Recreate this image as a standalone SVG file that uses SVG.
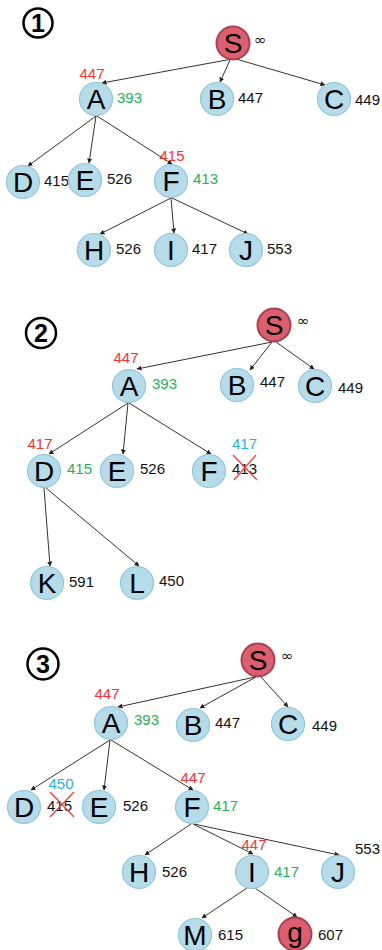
<svg xmlns="http://www.w3.org/2000/svg" width="382" height="950" viewBox="0 0 382 950">
<style>
.n{fill:#b6dcea;stroke:#8fc6da;stroke-width:1.2}
.s{fill:#dc5f70;stroke:#a8404f;stroke-width:2}
.L{font-family:"Liberation Sans",Arial,sans-serif;font-size:28px;fill:#000;text-anchor:middle}
.v{font-family:"Liberation Sans",Arial,sans-serif;font-size:15px;fill:#111}
.r{fill:#ff3030}
.g{fill:#22b35a}
.b{fill:#2aaee6}
.m{text-anchor:middle}
.e{stroke:#333;stroke-width:1;fill:none;marker-end:url(#ah)}
.x{stroke:#f04040;stroke-width:1.3}
.num{fill:#fff;stroke:#000;stroke-width:2.5}
.nt{font-family:"Liberation Sans",Arial,sans-serif;font-size:25px;font-weight:bold;text-anchor:middle}
.inf{font-family:"DejaVu Sans",sans-serif;font-size:15px;fill:#222}
</style>
<defs>
<marker id="ah" viewBox="0 0 10 10" refX="9" refY="5" markerWidth="5" markerHeight="5" orient="auto" markerUnits="userSpaceOnUse">
<path d="M0,0 L10,5 L0,10 z" fill="#222"/>
</marker>
</defs>
<rect width="382" height="950" fill="#fff"/>

<!-- Panel numbers -->
<g id="p1"><circle class="num" cx="38" cy="23" r="14.5"/><text class="nt" x="38" y="32">1</text></g>
<g id="p2"><circle class="num" cx="41" cy="333" r="15"/><text class="nt" x="41" y="342">2</text></g>
<g id="p3"><circle class="num" cx="43" cy="664" r="15.5"/><text class="nt" x="43" y="673">3</text></g>

<g id="connectors">
<!-- panel 1 -->
<line class="e" x1="232" y1="59" x2="102" y2="83"/>
<line class="e" x1="230" y1="60" x2="220" y2="82"/>
<line class="e" x1="236" y1="59" x2="325" y2="85"/>
<line class="e" x1="96" y1="116" x2="28" y2="166"/>
<line class="e" x1="96" y1="116" x2="89" y2="163"/>
<line class="e" x1="97" y1="116" x2="172" y2="164"/>
<line class="e" x1="171" y1="198" x2="100" y2="234"/>
<line class="e" x1="171" y1="198" x2="174" y2="233"/>
<line class="e" x1="172" y1="198" x2="248" y2="234"/>
<!-- panel 2 -->
<line class="e" x1="272" y1="342" x2="137" y2="369"/>
<line class="e" x1="272" y1="342" x2="250" y2="370"/>
<line class="e" x1="276" y1="342" x2="314" y2="369"/>
<line class="e" x1="128" y1="403" x2="49" y2="454"/>
<line class="e" x1="128" y1="403" x2="123" y2="454"/>
<line class="e" x1="129" y1="403" x2="211" y2="454"/>
<line class="e" x1="44" y1="488" x2="50" y2="566"/>
<line class="e" x1="46" y1="488" x2="139" y2="566"/>
<!-- panel 3 -->
<line class="e" x1="255" y1="677" x2="118" y2="707"/>
<line class="e" x1="256" y1="677" x2="200" y2="708"/>
<line class="e" x1="261" y1="677" x2="288" y2="707"/>
<line class="e" x1="110" y1="740" x2="31" y2="790"/>
<line class="e" x1="110" y1="740" x2="104" y2="790"/>
<line class="e" x1="111" y1="740" x2="193" y2="790"/>
<line class="e" x1="191" y1="824" x2="145" y2="855"/>
<line class="e" x1="193" y1="824" x2="253" y2="854"/>
<line class="e" x1="194" y1="824" x2="339" y2="855"/>
<line class="e" x1="247" y1="888" x2="202" y2="918"/>
<line class="e" x1="255" y1="888" x2="297" y2="917"/>
</g>

<!-- Panel 1 nodes -->
<g id="S1"><circle class="s" cx="233" cy="43" r="16.5"/><text class="L" x="233" y="53">S</text><text class="inf" x="254" y="45">∞</text></g>
<g id="A1"><circle class="n" cx="96" cy="99" r="16.5"/><text class="L" x="96" y="109">A</text><text class="v r m" x="92" y="79">447</text><text class="v g" x="117" y="103">393</text></g>
<g id="B1"><circle class="n" cx="217" cy="99" r="16.5"/><text class="L" x="217" y="109">B</text><text class="v" x="238" y="103">447</text></g>
<g id="C1"><circle class="n" cx="334" cy="99" r="16.5"/><text class="L" x="334" y="109">C</text><text class="v" x="355" y="105">449</text></g>
<g id="D1"><circle class="n" cx="23" cy="182" r="16.5"/><text class="L" x="23" y="192">D</text><text class="v" x="44" y="186">415</text></g>
<g id="E1"><circle class="n" cx="85" cy="180" r="16.5"/><text class="L" x="85" y="190">E</text><text class="v" x="107" y="184">526</text></g>
<g id="F1"><circle class="n" cx="171" cy="181" r="16.5"/><text class="L" x="171" y="191">F</text><text class="v r m" x="172" y="161">415</text><text class="v g" x="193" y="184">413</text></g>
<g id="H1"><circle class="n" cx="94" cy="250" r="16.5"/><text class="L" x="94" y="260">H</text><text class="v" x="116" y="254">526</text></g>
<g id="I1"><circle class="n" cx="171" cy="250" r="16.5"/><text class="L" x="171" y="260">I</text><text class="v" x="192" y="254">417</text></g>
<g id="J1"><circle class="n" cx="246" cy="250" r="16.5"/><text class="L" x="246" y="260">J</text><text class="v" x="267" y="254">553</text></g>

<!-- Panel 2 nodes -->
<g id="S2"><circle class="s" cx="274" cy="325" r="16.5"/><text class="L" x="274" y="335">S</text><text class="inf" x="297" y="326">∞</text></g>
<g id="A2"><circle class="n" cx="129" cy="386" r="16.5"/><text class="L" x="129" y="396">A</text><text class="v r m" x="126" y="363">447</text><text class="v g" x="152" y="389">393</text></g>
<g id="B2"><circle class="n" cx="237" cy="385" r="16.5"/><text class="L" x="237" y="395">B</text><text class="v" x="260" y="387">447</text></g>
<g id="C2"><circle class="n" cx="315" cy="386" r="16.5"/><text class="L" x="315" y="396">C</text><text class="v" x="338" y="393">449</text></g>
<g id="D2"><circle class="n" cx="44" cy="471" r="16.5"/><text class="L" x="44" y="481">D</text><text class="v r m" x="40" y="449">417</text><text class="v g" x="67" y="474">415</text></g>
<g id="E2"><circle class="n" cx="117" cy="471" r="16.5"/><text class="L" x="117" y="481">E</text><text class="v" x="140" y="474">526</text></g>
<g id="F2"><circle class="n" cx="209" cy="471" r="16.5"/><text class="L" x="209" y="481">F</text><text class="v b" x="232" y="449">417</text><text class="v" x="232" y="474">413</text><line class="x" x1="233" y1="455" x2="257" y2="480"/><line class="x" x1="256" y1="455" x2="234" y2="480"/></g>
<g id="K2"><circle class="n" cx="47" cy="583" r="16.5"/><text class="L" x="47" y="593">K</text><text class="v" x="69" y="587">591</text></g>
<g id="L2"><circle class="n" cx="137" cy="583" r="16.5"/><text class="L" x="137" y="593">L</text><text class="v" x="159" y="586">450</text></g>

<!-- Panel 3 nodes -->
<g id="S3"><circle class="s" cx="258" cy="660" r="16.5"/><text class="L" x="258" y="670">S</text><text class="inf" x="281" y="661">∞</text></g>
<g id="A3"><circle class="n" cx="111" cy="723" r="16.5"/><text class="L" x="111" y="733">A</text><text class="v r m" x="107" y="699">447</text><text class="v g" x="134" y="725">393</text></g>
<g id="B3"><circle class="n" cx="193" cy="725" r="16.5"/><text class="L" x="193" y="735">B</text><text class="v" x="215" y="728">447</text></g>
<g id="C3"><circle class="n" cx="288" cy="724" r="16.5"/><text class="L" x="288" y="734">C</text><text class="v" x="312" y="731">449</text></g>
<g id="D3"><circle class="n" cx="24" cy="807" r="16.5"/><text class="L" x="24" y="817">D</text><text class="v b m" x="61" y="789">450</text><text class="v" x="47" y="811">415</text><line class="x" x1="50" y1="792" x2="74" y2="817"/><line class="x" x1="74" y1="792" x2="50" y2="817"/></g>
<g id="E3"><circle class="n" cx="99" cy="807" r="16.5"/><text class="L" x="99" y="817">E</text><text class="v" x="123" y="811">526</text></g>
<g id="F3"><circle class="n" cx="192" cy="807" r="16.5"/><text class="L" x="192" y="817">F</text><text class="v r m" x="193" y="783">447</text><text class="v g" x="213" y="811">417</text></g>
<g id="H3"><circle class="n" cx="139" cy="872" r="16.5"/><text class="L" x="139" y="882">H</text><text class="v" x="162" y="877">526</text></g>
<g id="I3"><circle class="n" cx="252" cy="872" r="16.5"/><text class="L" x="252" y="882">I</text><text class="v r m" x="254" y="850">447</text><text class="v g" x="274" y="877">417</text></g>
<g id="J3"><circle class="n" cx="338" cy="872" r="16.5"/><text class="L" x="338" y="882">J</text><text class="v" x="355" y="854">553</text></g>
<g id="M3"><circle class="n" cx="195" cy="935" r="16.5"/><text class="L" x="195" y="945">M</text><text class="v" x="218" y="940">615</text></g>
<g id="g3"><circle class="s" cx="295" cy="934" r="16.5"/><text class="L" x="295" y="942">g</text><text class="v" x="318" y="940">607</text></g>
</svg>
